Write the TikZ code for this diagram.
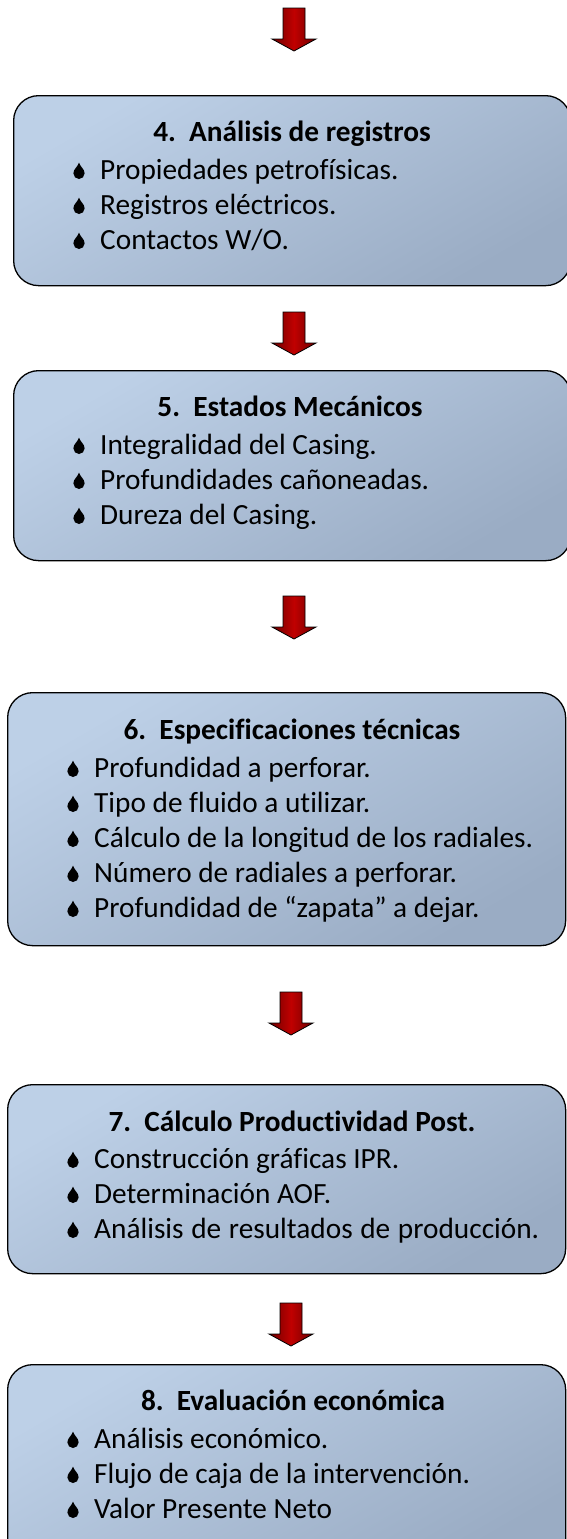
\documentclass[tikz,border=0pt]{standalone}
\usepackage{fontspec}
\setmainfont[Ligatures=NoCommon]{Carlito}
\definecolor{boxA}{HTML}{BDD0E7}
\definecolor{boxB}{HTML}{9AACC4}
\definecolor{arrDark}{HTML}{6E0000}
\definecolor{arrMid}{HTML}{C00000}
\tikzset{
  box/.style={draw=black, line width=1.3pt, rounded corners=25pt,
    top color=boxA, bottom color=boxB, shading angle=30,
    anchor=north west, inner sep=0pt},
  titletext/.style={anchor=base, inner sep=0pt, font=\fontsize{29.3}{35}\selectfont\bfseries},
  itemtext/.style={anchor=base west, inner sep=0pt, font=\fontsize{29.3}{35}\selectfont},
  drop/.pic={\fill[black] (0,-16.5) .. controls (1.3,-12) and (5.6,-10) .. (5.6,-5.6)
      arc (0:180:5.6) .. controls (-5.6,-10) and (-1.3,-12) .. cycle;},
  darrow/.pic={\draw[line width=0.8pt, draw=black, left color=arrDark, right color=arrDark, middle color=arrMid]
      (-11,0) -- (11,0) -- (11,31) -- (22,31) -- (0,43) -- (-22,31) -- (-11,31) -- cycle;}
}
\begin{document}
\begin{tikzpicture}[x=1pt,y=-1pt]
\useasboundingbox (0,0) rectangle (566,1539);

% arrows
\pic at (294,8) {darrow};
\pic at (294,312) {darrow};
\pic at (294,596) {darrow};
\pic at (291,992) {darrow};
\pic at (291,1303) {darrow};

% box 4
\node[box, minimum width=557pt, minimum height=190pt] (b4) at (13,95) {};
\node[titletext] (t4) at (292,141) {4.\hspace{0.45em}Análisis de registros};
\node[itemtext] (i41) at (100,179) {Propiedades petrofísicas.};
\node[itemtext] (i42) at (100,214) {Registros eléctricos.};
\node[itemtext] (i43) at (100,249) {Contactos W/O.};
\pic at (79,179) {drop};
\pic at (79,214) {drop};
\pic at (79,249) {drop};

% box 5
\node[box, minimum width=557pt, minimum height=190pt] (b5) at (13,370) {};
\node[titletext] (t5) at (290,416) {5.\hspace{0.45em}Estados Mecánicos};
\node[itemtext] (i51) at (100,454) {Integralidad del Casing.};
\node[itemtext] (i52) at (100,489) {Profundidades cañoneadas.};
\node[itemtext] (i53) at (100,524) {Dureza del Casing.};
\pic at (79,454) {drop};
\pic at (79,489) {drop};
\pic at (79,524) {drop};

% box 6
\node[box, minimum width=558pt, minimum height=253pt] (b6) at (7,692) {};
\node[titletext] (t6) at (292,739) {6.\hspace{0.45em}Especificaciones técnicas};
\node[itemtext] (i61) at (94,777) {Profundidad a perforar.};
\node[itemtext] (i62) at (94,812) {Tipo de fluido a utilizar.};
\node[itemtext] (i63) at (94,847) {Cálculo de la longitud de los radiales.};
\node[itemtext] (i64) at (94,882) {Número de radiales a perforar.};
\node[itemtext] (i65) at (94,917) {Profundidad de “zapata” a dejar.};
\foreach \yy in {777,812,847,882,917} {\pic at (73,\yy) {drop};}

% box 7
\node[box, minimum width=558pt, minimum height=189pt] (b7) at (7,1084) {};
\node[titletext] (t7) at (292,1131) {7.\hspace{0.45em}Cálculo Productividad Post.};
\node[itemtext] (i71) at (94,1168) {Construcción gráficas IPR.};
\node[itemtext] (i72) at (94,1203) {Determinación AOF.};
\node[itemtext] (i73) at (94,1238) {\makebox[445pt][s]{Análisis de resultados de producción.}};
\foreach \yy in {1168,1203,1238} {\pic at (73,\yy) {drop};}

% box 8
\node[box, minimum width=558pt, minimum height=200pt] (b8) at (7,1364) {};
\node[titletext] (t8) at (293,1410) {8.\hspace{0.45em}Evaluación económica};
\node[itemtext] (i81) at (94,1448) {Análisis económico.};
\node[itemtext] (i82) at (94,1483) {Flujo de caja de la intervención.};
\node[itemtext] (i83) at (94,1518) {Valor Presente Neto};
\foreach \yy in {1448,1483,1518} {\pic at (73,\yy) {drop};}
\end{tikzpicture}
\end{document}
